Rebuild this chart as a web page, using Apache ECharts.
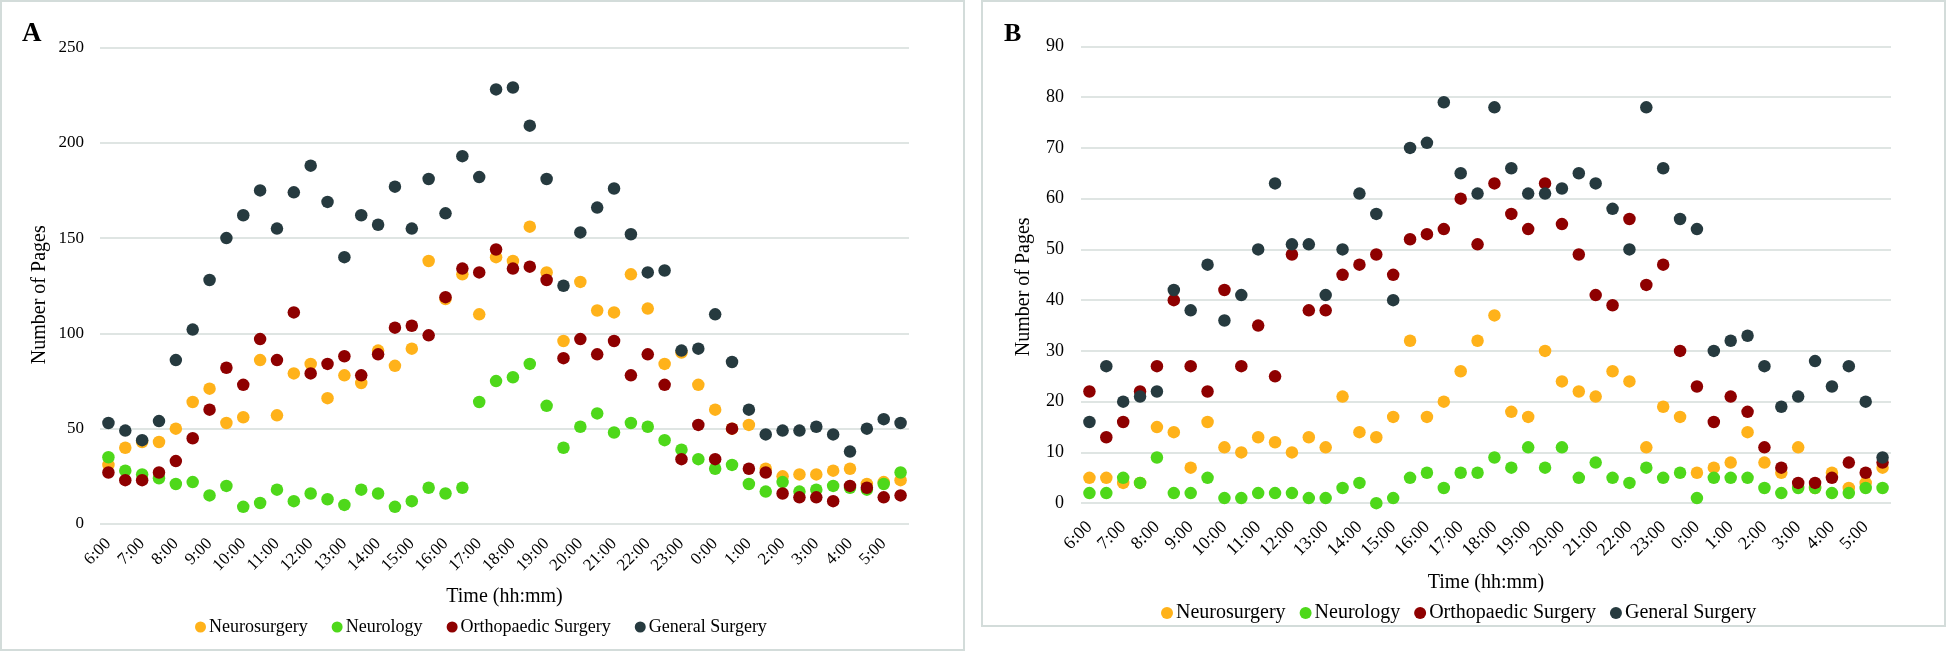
<!DOCTYPE html>
<html>
<head>
<meta charset="utf-8">
<script src="https://cdn.jsdelivr.net/npm/echarts@6/dist/echarts.min.js"></script>
<style>
html,body{margin:0;padding:0;background:#fff;}
#c{width:1948px;height:654px;}
</style>
</head>
<body>
<div id="c"></div>
<script>
const categories = ["6:00","6:30","7:00","7:30","8:00","8:30","9:00","9:30","10:00","10:30","11:00","11:30","12:00","12:30","13:00","13:30","14:00","14:30","15:00","15:30","16:00","16:30","17:00","17:30","18:00","18:30","19:00","19:30","20:00","20:30","21:00","21:30","22:00","22:30","23:00","23:30","0:00","0:30","1:00","1:30","2:00","2:30","3:00","3:30","4:00","4:30","5:00","5:30"];
const seriesNames = ["Neurosurgery","Neurology","Orthopaedic Surgery","General Surgery"];

// Panel A
const neuroA = [31,40,43,43,50,64,71,53,56,86,57,79,84,66,78,74,91,83,92,138,118,131,110,140,138,156,132,96,127,112,111,131,113,84,90,73,60,50,52,29,25,26,26,28,29,21,22,23];
const neurologyA = [35,28,26,24,21,22,15,20,9,11,18,12,16,13,10,18,16,9,12,19,16,19,64,75,77,84,62,40,51,58,48,53,51,44,39,34,29,31,21,17,22,17,18,20,19,18,21,27];
const orthoA = [27,23,23,27,33,45,60,82,73,97,86,111,79,84,88,78,89,103,104,99,119,134,132,144,134,135,128,87,97,89,96,78,89,73,34,52,34,50,29,27,16,14,14,12,20,19,14,15];
const generalA = [53,49,44,54,86,102,128,150,162,175,155,174,188,169,140,162,157,177,155,181,163,193,182,228,229,209,181,125,153,166,176,152,132,133,91,92,110,85,60,47,49,49,51,47,38,50,55,53];

// Panel B
const neuroB = [5,5,4,4,15,14,7,16,11,10,13,12,10,13,11,21,14,13,17,32,17,20,26,32,37,18,17,30,24,22,21,26,24,11,19,17,6,7,8,14,8,6,11,3,6,3,4,7];
const neurologyB = [2,2,5,4,9,2,2,5,1,1,2,2,2,1,1,3,4,0,1,5,6,3,6,6,9,7,11,7,11,5,8,5,4,7,5,6,1,5,5,5,3,2,3,3,2,2,3,3];
const orthoB = [22,13,16,22,27,40,27,22,42,27,35,25,49,38,38,45,47,49,45,52,53,54,60,51,63,57,54,63,55,49,41,39,56,43,47,30,23,16,21,18,11,7,4,4,5,8,6,8];
const generalB = [16,27,20,21,22,42,38,47,36,41,50,63,51,51,41,50,61,57,40,70,71,79,65,61,78,66,61,61,62,65,63,58,50,78,66,56,54,30,32,33,27,19,21,28,23,27,20,9];

const colors = ["#FFB21A","#4ED81A","#8E0000","#263A3F"];
const FONT = "Liberation Serif";
const gridColor = "#d5dcda";

function xAxis(gridIndex, fs, margin, nameGap) {
  return {
    type: "category", gridIndex: gridIndex, data: categories, boundaryGap: true,
    axisLine: {show: false}, axisTick: {show: false},
    axisLabel: {interval: 1, rotate: 45, margin: margin, color: "#000", fontFamily: FONT, fontSize: fs},
    name: "Time (hh:mm)", nameLocation: "middle", nameGap: nameGap,
    nameTextStyle: {color: "#000", fontFamily: FONT, fontSize: 20}
  };
}
function yAxis(gridIndex, max, interval, fs, margin, nameGap, pad) {
  return {
    type: "value", gridIndex: gridIndex, min: 0, max: max, interval: interval,
    axisLine: {show: false}, axisTick: {show: false},
    splitLine: {lineStyle: {color: gridColor, width: 1.5}},
    axisLabel: {margin: margin, color: "#000", fontFamily: FONT, fontSize: fs},
    name: "Number of Pages", nameLocation: "middle", nameGap: nameGap,
    nameTextStyle: {color: "#000", fontFamily: FONT, fontSize: 20, padding: [0, pad, 0, 0]}
  };
}
function sc(name, data, idx, color) {
  return {
    name: name, type: "scatter", xAxisIndex: idx, yAxisIndex: idx, data: data,
    symbol: "circle", symbolSize: 12.5, itemStyle: {color: color, opacity: 1},
    emphasis: {disabled: true}
  };
}

const chart = echarts.init(document.getElementById("c"), null, {renderer: "canvas"});
chart.setOption({
  animation: false,
  backgroundColor: "#fff",
  color: colors,
  graphic: [
    {type: "rect", shape: {x: 1, y: 1, width: 963, height: 649}, style: {fill: "none", stroke: "#d3dcda", lineWidth: 2}, silent: true, z: -10},
    {type: "rect", shape: {x: 982, y: 1, width: 963, height: 625}, style: {fill: "none", stroke: "#d3dcda", lineWidth: 2}, silent: true, z: -10}
  ],
  title: [
    {text: "A", left: 17, top: 16, textStyle: {fontFamily: FONT, fontSize: 27, fontWeight: "bold", color: "#000"}},
    {text: "B", left: 999, top: 16, textStyle: {fontFamily: FONT, fontSize: 26, fontWeight: "bold", color: "#000"}}
  ],
  legend: [
    {data: seriesNames, left: 190, top: 613, icon: "circle", itemWidth: 11, itemHeight: 11, itemGap: 24,
     textStyle: {fontFamily: FONT, fontSize: 18, color: "#000", padding: [0, 0, 0, -2]}},
    {data: seriesNames, left: 1156, top: 598, icon: "circle", itemWidth: 12, itemHeight: 12, itemGap: 14,
     textStyle: {fontFamily: FONT, fontSize: 20, color: "#000", padding: [0, 0, 0, -2]}}
  ],
  grid: [
    {left: 100, top: 47.5, width: 809, height: 476.5, containLabel: false},
    {left: 1081, top: 46.4, width: 810, height: 456.8, containLabel: false}
  ],
  xAxis: [xAxis(0, 17, 17, 63), xAxis(1, 18, 21, 70)],
  yAxis: [yAxis(0, 250, 50, 17, 16, 50, 18), yAxis(1, 90, 10, 18, 17, 47, 24)],
  series: [
    sc(seriesNames[0], neuroA, 0, colors[0]),
    sc(seriesNames[1], neurologyA, 0, colors[1]),
    sc(seriesNames[2], orthoA, 0, colors[2]),
    sc(seriesNames[3], generalA, 0, colors[3]),
    sc(seriesNames[0], neuroB, 1, colors[0]),
    sc(seriesNames[1], neurologyB, 1, colors[1]),
    sc(seriesNames[2], orthoB, 1, colors[2]),
    sc(seriesNames[3], generalB, 1, colors[3])
  ]
});
</script>
</body>
</html>
